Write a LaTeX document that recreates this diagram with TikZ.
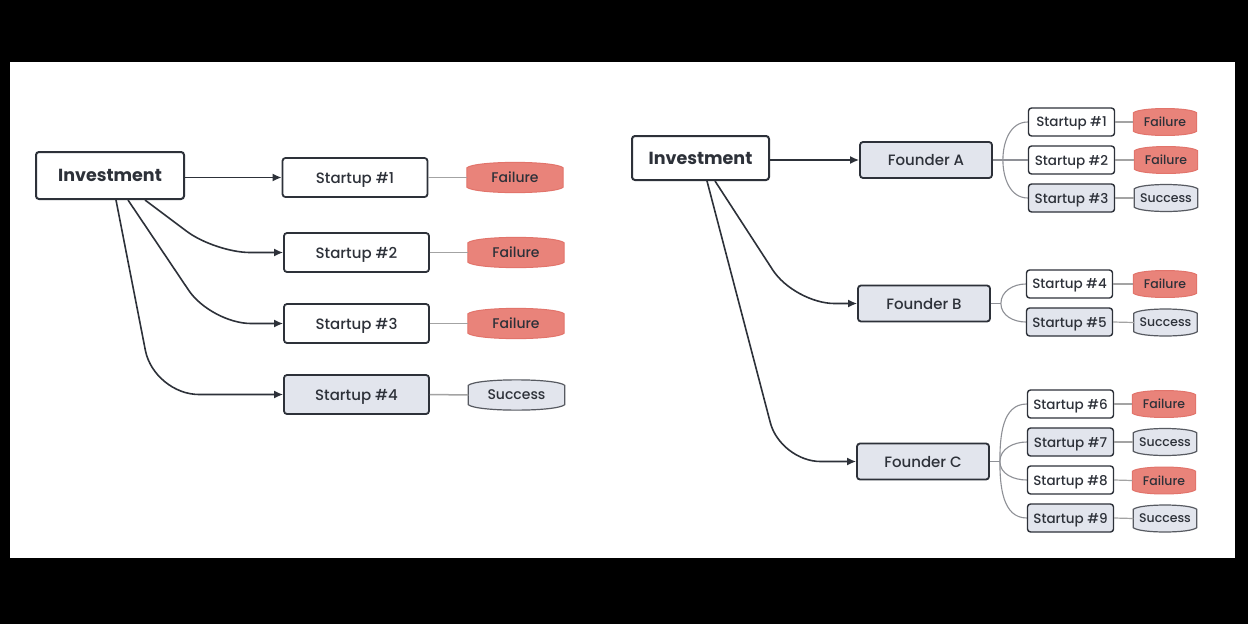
\documentclass[tikz,border=0pt]{standalone}
\usepackage{fontspec}
\setmainfont{Poppins}[UprightFont={* Medium}, BoldFont={* Bold}]
\usetikzlibrary{positioning, arrows.meta, backgrounds}

\definecolor{ink}{HTML}{2D3139}
\definecolor{mist}{HTML}{E2E5ED}
\definecolor{coral}{HTML}{E9837A}
\definecolor{coralline}{HTML}{E2746B}
\definecolor{wire}{HTML}{A3A3A3}
\definecolor{twig}{HTML}{8E9096}

\tikzset{
  root/.style={draw=ink, line width=2, rounded corners=3, text=ink, text depth=0pt, font=\fontsize{17.5}{20}\selectfont\bfseries},
  startup/.style={draw=ink, line width=1.8, rounded corners=3, text=ink, text depth=0pt, minimum width=145, minimum height=39, font=\fontsize{15}{18}\selectfont},
  mini/.style={line width=1.4, minimum width=86, minimum height=28, font=\fontsize{13.5}{16}\selectfont},
  won/.style={fill=mist},
  outcome/.style={text=ink, text depth=0pt, minimum width=96, minimum height=29, inner sep=0, font=\fontsize{14}{17}\selectfont},
  minioutcome/.style={outcome, minimum width=63, minimum height=28, font=\fontsize{12.5}{15}\selectfont},
  failshape/.style={fill=coral, draw=coralline, line width=1},
  winshape/.style={fill=mist, draw=ink!80, line width=1.2},
  flow/.style={draw=ink, line width=1.6, -{Latex[length=9, width=8]}},
  stub/.style={draw=wire, line width=1.5},
  branch/.style={draw=twig, line width=1.1},
}

\begin{document}
\begin{tikzpicture}[x=1pt, y=-1pt]
  % left: one investment, four startups
  \node[root, minimum width=148, minimum height=47] (inv) at (110,175.5) {Investment};
  \node[startup] (s1) at (355,177.5) {Startup \#1};
  \node[startup] (s2) at (356.5,252.5) {Startup \#2};
  \node[startup] (s3) at (356.5,323.5) {Startup \#3};
  \node[startup, won] (s4) at (356.5,394.5) {Startup \#4};
  \node[outcome] (o1) at (515,177.5) {Failure};
  \node[outcome] (o2) at (516,252.5) {Failure};
  \node[outcome] (o3) at (516,323.5) {Failure};
  \node[outcome] (o4) at (516.5,395) {Success};

  \draw[flow] (inv.east |- s1.west) -- (s1.west);
  \draw[flow, rounded corners=35] ([xshift=35]inv.south) -- ([xshift=105]inv.south |- s2.west) -- (s2.west);
  \draw[flow, rounded corners=40] ([xshift=18]inv.south) -- ([xshift=101]inv.south |- s3.west) -- (s3.west);
  \draw[flow, rounded corners=45] ([xshift=6]inv.south) -- ([xshift=44]inv.south |- s4.west) -- (s4.west);
  \foreach \i in {1,...,4}
    \draw[stub] (s\i.east) -- (o\i.west);

  % right: one investment, three founders, nine startups
  \node[root, minimum width=137, minimum height=44] (inv2) at (700.5,158) {Investment};
  \node[startup, won, minimum width=132, minimum height=36] (fa) at (926,160) {Founder A};
  \node[startup, won, minimum width=132, minimum height=36] (fb) at (924,303.5) {Founder B};
  \node[startup, won, minimum width=132, minimum height=36] (fc) at (923,461.5) {Founder C};

  \node[startup, mini] (t1) at (1071.5,122) {Startup \#1};
  \node[startup, mini] (t2) at (1071.5,160) {Startup \#2};
  \node[startup, mini, won] (t3) at (1071.5,198) {Startup \#3};
  \node[startup, mini] (t4) at (1069.5,284) {Startup \#4};
  \node[startup, mini, won] (t5) at (1069.5,322) {Startup \#5};
  \node[startup, mini] (t6) at (1070.5,404) {Startup \#6};
  \node[startup, mini, won] (t7) at (1070.5,442) {Startup \#7};
  \node[startup, mini] (t8) at (1070.5,480) {Startup \#8};
  \node[startup, mini, won] (t9) at (1070.5,518) {Startup \#9};

  \node[minioutcome] (p1) at (1165,122) {Failure};
  \node[minioutcome] (p2) at (1166,160) {Failure};
  \node[minioutcome] (p3) at (1166,198) {Success};
  \node[minioutcome] (p4) at (1165,284) {Failure};
  \node[minioutcome] (p5) at (1165.5,322.5) {Success};
  \node[minioutcome] (p6) at (1164,404) {Failure};
  \node[minioutcome] (p7) at (1165,442) {Success};
  \node[minioutcome] (p8) at (1164,480.5) {Failure};
  \node[minioutcome] (p9) at (1165,518.5) {Success};

  \draw[flow] (inv2.east |- fa.west) -- (fa.west);
  \draw[flow, rounded corners=40] ([xshift=14.5]inv2.south) -- ([xshift=94]inv2.south |- fb.west) -- (fb.west);
  \draw[flow, rounded corners=40] ([xshift=6.5]inv2.south) -- ([xshift=80]inv2.south |- fc.west) -- (fc.west);

  \draw[branch] (fa.east) -- ++(10,0) coordinate (ja) -- (t2.west);
  \draw[branch] (ja) to[out=90, in=180] (t1.west);
  \draw[branch] (ja) to[out=-90, in=180] (t3.west);
  \draw[branch] (fb.east) -- ++(10,0) coordinate (jb);
  \draw[branch] (jb) to[out=90, in=180] (t4.west);
  \draw[branch] (jb) to[out=-90, in=180] (t5.west);
  \draw[branch] (fc.east) -- ++(10,0) coordinate (jc);
  \draw[branch] (jc) to[out=90, in=180] (t6.west);
  \draw[branch] (jc) to[out=90, in=180] (t7.west);
  \draw[branch] (jc) to[out=-90, in=180] (t8.west);
  \draw[branch] (jc) to[out=-90, in=180] (t9.west);
  \foreach \i in {1,...,9}
    \draw[stub, line width=1.2] (t\i.east) -- (p\i.west);

  \begin{scope}[on background layer]
    \fill[black] (0,0) rectangle (1248,624);
    \fill[white] (10,62) rectangle (1235,558);
    \foreach \n/\l/\s in {o1/0.3/failshape, o2/0.3/failshape, o3/0.3/failshape, o4/0.3/winshape,
                          p1/0.36/failshape, p2/0.36/failshape, p3/0.36/winshape, p4/0.36/failshape, p5/0.36/winshape,
                          p6/0.36/failshape, p7/0.36/winshape, p8/0.36/failshape, p9/0.36/winshape}
      \draw[\s] ([yshift=-5]\n.north west) to[out=40, in=140, looseness=\l] ([yshift=-5]\n.north east)
        -- ([yshift=5]\n.south east) to[out=-140, in=-40, looseness=\l] ([yshift=5]\n.south west) -- cycle;
  \end{scope}
\end{tikzpicture}
\end{document}
